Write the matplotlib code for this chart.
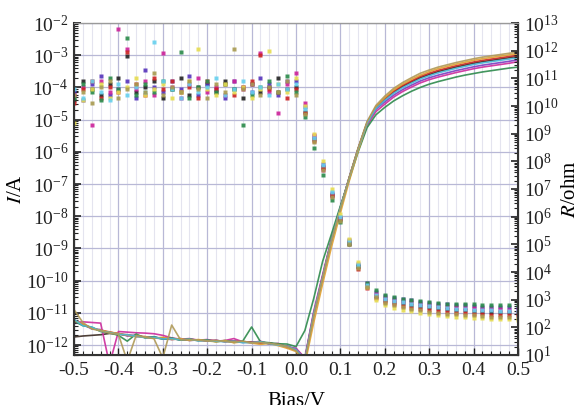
import numpy as np
import matplotlib
matplotlib.use('Agg')
import matplotlib.pyplot as plt
from matplotlib.ticker import MultipleLocator, LogLocator, NullFormatter

plt.rcParams['font.family'] = 'serif'
plt.rcParams['font.serif'] = ['Liberation Serif', 'DejaVu Serif']
plt.rcParams['mathtext.fontset'] = 'stix'
plt.rcParams['axes.unicode_minus'] = False

# bias sweep, V (step 0.02)
bias = np.round(np.arange(-0.5, 0.501, 0.02), 2)

# lg(I/A)
i_black = [-11.75, -11.72, -11.70, -11.68, -11.64, -11.66, -11.70, -11.71, -11.76, -11.78,
           -11.80, -11.80, -11.84, -11.83, -11.86, -11.85, -11.88, -11.87, -11.90, -11.89,
           -11.92, -11.92, -11.96, -11.97, -12.06,
           -12.15, -12.45, -11.05, -9.90, -8.75, -7.75, -6.80, -5.90, -5.10, -4.63,
           -4.37, -4.15, -3.97, -3.83, -3.70, -3.60, -3.51, -3.44, -3.37, -3.31,
           -3.25, -3.20, -3.16, -3.12, -3.08, -3.04]
i_purple = [-11.28, -11.36, -11.50, -11.52, -11.62, -11.63, -11.72, -11.70, -11.76, -11.75,
            -11.80, -11.83, -11.80, -11.86, -11.84, -11.88, -11.85, -11.90, -11.87, -11.92,
            -11.90, -11.95, -11.93, -12.00, -12.03,
            -12.12, -12.42, -11.00, -9.85, -8.72, -7.73, -6.80, -5.92, -5.14, -4.68,
            -4.45, -4.24, -4.07, -3.93, -3.80, -3.70, -3.62, -3.55, -3.48, -3.42,
            -3.36, -3.31, -3.27, -3.23, -3.19, -3.14]
i_magenta = [-11.30, -11.28, -11.30, -11.32, -12.60, -11.58, -11.60, -11.62, -11.63, -11.65,
             -11.70, -11.78, -11.82, -11.80, -11.85, -11.83, -11.88, -11.86, -11.80, -11.90,
             -11.93, -11.88, -11.97, -11.95, -12.08,
             -12.10, -12.40, -10.95, -9.82, -8.70, -7.72, -6.82, -5.95, -5.18, -4.75,
             -4.52, -4.30, -4.13, -3.99, -3.86, -3.76, -3.68, -3.61, -3.54, -3.48,
             -3.42, -3.37, -3.33, -3.29, -3.25, -3.20]
i_red = [-11.22, -11.36, -11.46, -11.56, -11.59, -11.66, -11.68, -11.74, -11.74, -11.78,
         -11.78, -11.82, -11.82, -11.85, -11.84, -11.87, -11.86, -11.89, -11.88, -11.91,
         -11.90, -11.94, -11.94, -11.99, -12.04,
         -12.16, -12.46, -11.06, -9.90, -8.76, -7.76, -6.80, -5.90, -5.10, -4.62,
         -4.35, -4.12, -3.94, -3.80, -3.66, -3.56, -3.47, -3.40, -3.33, -3.27,
         -3.21, -3.16, -3.12, -3.08, -3.04, -3.00]
i_green = [-11.26, -11.40, -11.45, -11.58, -11.62, -11.70, -11.88, -11.66, -11.78, -11.74,
           -11.82, -11.78, -11.85, -11.81, -11.86, -11.84, -11.90, -11.86, -11.92, -11.88,
           -11.44, -11.90, -11.93, -11.96, -11.97,
           -12.05, -11.55, -10.55, -9.40, -8.55, -7.68, -6.85, -6.00, -5.25, -4.85,
           -4.62, -4.42, -4.26, -4.12, -4.00, -3.90, -3.82, -3.75, -3.68, -3.62,
           -3.57, -3.52, -3.48, -3.44, -3.40, -3.37]
i_yellow = [-11.24, -11.35, -11.48, -11.54, -11.60, -11.64, -11.70, -11.73, -11.74, -11.79,
            -11.76, -11.83, -11.80, -11.86, -11.83, -11.87, -11.90, -11.86, -11.93, -11.90,
            -11.94, -11.98, -11.95, -12.02, -12.10,
            -12.20, -12.60, -11.30, -10.10, -8.95, -7.90, -6.90, -5.98, -5.12, -4.60,
            -4.32, -4.08, -3.90, -3.75, -3.62, -3.51, -3.42, -3.35, -3.28, -3.22,
            -3.16, -3.11, -3.07, -3.03, -2.99, -2.95]
i_cyan = [-11.20, -11.40, -11.44, -11.57, -11.61, -11.67, -11.68, -11.73, -11.77, -11.76,
          -11.81, -11.80, -11.84, -11.82, -11.87, -11.86, -11.88, -11.90, -11.88, -11.93,
          -11.92, -11.90, -11.96, -12.00, -12.04,
          -12.14, -12.44, -11.02, -9.88, -8.74, -7.74, -6.80, -5.91, -5.12, -4.66,
          -4.40, -4.18, -4.01, -3.87, -3.74, -3.64, -3.55, -3.48, -3.41, -3.35,
          -3.29, -3.24, -3.20, -3.16, -3.12, -3.08]
i_olive = [-10.90, -11.30, -11.50, -11.56, -11.63, -11.67, -12.50, -11.70, -11.76, -11.80,
           -12.40, -11.38, -11.84, -11.83, -11.85, -11.87, -11.86, -11.89, -11.90, -11.88,
           -11.93, -11.92, -11.95, -11.98, -12.05,
           -12.18, -12.50, -11.10, -9.92, -8.77, -7.76, -6.79, -5.88, -5.06, -4.56,
           -4.27, -4.03, -3.85, -3.70, -3.56, -3.46, -3.37, -3.30, -3.23, -3.17,
           -3.11, -3.06, -3.02, -2.98, -2.94, -2.90]

# lg(R/ohm)
r_black = [10.2, 10.9, 10.6, 10.4, 10.8, 11.0, 11.8, 10.5, 10.7, 10.9,
           10.3, 10.6, 11.0, 10.4, 10.7, 10.8, 10.5, 10.9, 10.6, 10.3,
           10.8, 10.5, 10.7, 11.0, 10.6,
           10.7, 9.8, 8.8, 7.8, 6.8, 5.95, 5.1, 4.2, 3.5, 3.15,
           3.0, 2.93, 2.87, 2.81, 2.76, 2.72, 2.69, 2.66, 2.63, 2.61,
           2.59, 2.57, 2.56, 2.55, 2.54, 2.53]
r_purple = [10.5, 10.2, 10.8, 11.1, 10.4, 10.6, 10.9, 10.3, 11.3, 10.7,
            10.5, 10.9, 10.6, 11.1, 10.4, 10.8, 10.6, 10.3, 10.9, 10.7,
            10.5, 11.0, 10.8, 10.4, 10.9,
            10.9, 9.95, 8.9, 7.9, 6.85, 6.0, 5.15, 4.3, 3.6, 3.28,
            3.13, 3.07, 3.02, 2.97, 2.92, 2.89, 2.86, 2.83, 2.81, 2.79,
            2.77, 2.75, 2.74, 2.73, 2.72, 2.71]
r_magenta = [10.4, 10.7, 9.3, 10.9, 10.5, 12.8, 12.05, 10.6, 10.9, 10.4,
             11.9, 10.7, 10.3, 10.8, 11.0, 10.5, 10.7, 10.4, 10.9, 10.6,
             10.8, 11.9, 10.5, 9.75, 10.8,
             11.2, 10.1, 8.95, 7.7, 6.75, 5.9, 5.05, 4.2, 3.55, 3.22,
             3.07, 3.0, 2.95, 2.9, 2.85, 2.81, 2.78, 2.75, 2.73, 2.71,
             2.69, 2.67, 2.66, 2.65, 2.64, 2.63]
r_red = [10.1, 10.6, 10.9, 10.3, 10.7, 10.5, 11.95, 10.8, 10.4, 11.0,
         10.6, 10.9, 10.5, 10.7, 10.3, 10.9, 10.6, 10.8, 10.4, 10.7,
         10.9, 11.85, 10.6, 10.5, 10.3,
         10.6, 9.75, 8.75, 7.75, 6.8, 5.9, 5.0, 4.1, 3.42, 3.05,
         2.9, 2.83, 2.77, 2.71, 2.66, 2.62, 2.59, 2.56, 2.53, 2.51,
         2.49, 2.47, 2.46, 2.45, 2.44, 2.43]
r_green = [10.3, 10.8, 10.5, 10.2, 11.0, 10.6, 12.45, 10.4, 10.8, 10.5,
           10.9, 10.6, 11.95, 10.3, 10.7, 10.9, 10.5, 10.8, 10.6, 9.3,
           10.4, 10.7, 10.9, 10.5, 11.1,
           10.5, 9.6, 8.5, 7.5, 6.6, 5.8, 5.0, 4.2, 3.62, 3.35,
           3.17, 3.1, 3.04, 2.99, 2.94, 2.9, 2.88, 2.86, 2.85, 2.84,
           2.83, 2.82, 2.82, 2.81, 2.81, 2.8]
r_yellow = [9.4, 10.2, 10.6, 10.8, 10.3, 10.5, 10.7, 11.0, 10.4, 10.6,
            10.8, 10.3, 10.5, 10.9, 12.05, 10.6, 10.4, 10.8, 10.5, 10.7,
            10.3, 10.6, 12.0, 10.8, 10.5,
            11.0, 10.0, 9.0, 8.0, 7.0, 6.1, 5.2, 4.35, 3.45, 3.0,
            2.8, 2.71, 2.64, 2.58, 2.53, 2.48, 2.45, 2.42, 2.39, 2.37,
            2.35, 2.33, 2.31, 2.3, 2.29, 2.28]
r_cyan = [10.6, 10.3, 10.9, 10.5, 10.2, 10.8, 10.4, 10.7, 10.5, 12.3,
          10.9, 10.6, 10.3, 10.8, 10.5, 10.7, 11.0, 10.4, 10.6, 10.9,
          10.5, 10.7, 10.4, 10.8, 10.6,
          10.8, 9.9, 8.85, 7.85, 6.9, 6.0, 5.1, 4.25, 3.52, 3.18,
          3.03, 2.96, 2.9, 2.85, 2.8, 2.76, 2.73, 2.7, 2.68, 2.66,
          2.64, 2.62, 2.61, 2.6, 2.59, 2.58]
r_olive = [10.4, 10.5, 10.1, 10.7, 10.9, 10.3, 10.6, 10.8, 10.5, 11.2,
           10.4, 10.7, 10.5, 10.9, 10.6, 10.3, 10.8, 10.5, 12.06, 10.6,
           10.8, 10.4, 10.7, 10.5, 10.9,
           10.4, 9.7, 8.7, 7.7, 6.7, 5.85, 5.0, 4.15, 3.45, 3.08,
           2.88, 2.8, 2.73, 2.67, 2.62, 2.57, 2.53, 2.5, 2.47, 2.45,
           2.43, 2.41, 2.39, 2.38, 2.36, 2.35]

curves_i = [i_black, i_purple, i_magenta, i_red, i_green, i_yellow, i_cyan, i_olive]
curves_r = [r_black, r_purple, r_magenta, r_red, r_green, r_yellow, r_cyan, r_olive]
line_colors = ['#3a2a22', '#7a3cc0', '#cc2a9c', '#cc2626', '#2e8a4c', '#e0a030', '#4ab8d8', '#b09a58']
dot_colors = ['#222222', '#5533bb', '#cc2299', '#cc2222', '#2a8a4a', '#e6dc50', '#66d0ee', '#a89a50']

fig = plt.figure(figsize=(5.77, 4.05), dpi=100)
ax = fig.add_axes([74 / 577, 50 / 405, 444 / 577, 332 / 405])
ax2 = ax.twinx()

for lg, col in zip(curves_i, line_colors):
    ax.plot(bias, 10.0 ** np.array(lg), color=col, lw=1.2, alpha=0.9)

for lg, col in zip(curves_r, dot_colors):
    ax2.plot(bias, 10.0 ** np.array(lg), 's', ms=2.3, color=col, mec='none', alpha=0.9)

ax.set_xlim(-0.5, 0.5)
ax.set_yscale('log')
ax.set_ylim(10 ** -12.31, 1e-2)
ax2.set_yscale('log')
ax2.set_ylim(1e1, 1e13)

ax.xaxis.set_major_locator(MultipleLocator(0.1))
ax.xaxis.set_minor_locator(MultipleLocator(0.02))
for a in (ax, ax2):
    a.yaxis.set_major_locator(LogLocator(base=10, numticks=30))
    a.yaxis.set_minor_locator(LogLocator(base=10, subs=np.arange(2, 10), numticks=30))
    a.yaxis.set_minor_formatter(NullFormatter())

ax.grid(True, which='major', axis='both', color='#b8b8d6', lw=0.9)
ax.grid(True, which='minor', axis='x', color='#e4e4ef', lw=0.8)
ax.set_axisbelow(True)

ax.tick_params(axis='both', which='both', direction='in', labelsize=14, colors='#222222')
ax.tick_params(axis='x', which='major', length=5, width=1, pad=5, top=False)
ax.tick_params(axis='x', which='minor', length=3, width=0.8, top=False)
ax.tick_params(axis='y', which='major', length=5, width=1.2, pad=4)
ax.tick_params(axis='y', which='minor', length=3, width=0.8)
ax2.tick_params(axis='y', which='both', direction='in', labelsize=14, colors='#222222')
ax2.tick_params(axis='y', which='major', length=5, width=1.2, pad=4)
ax2.tick_params(axis='y', which='minor', length=3, width=0.8)

for sp in ('left', 'right', 'bottom'):
    ax2.spines[sp].set_color('#333333')
    ax2.spines[sp].set_linewidth(1.5)
ax2.spines['top'].set_color('#9a9a9a')

ax.set_ylabel('$I$/A', fontsize=15)
ax.yaxis.set_label_coords(-0.108, 0.5)
ax2.set_ylabel('$R$/ohm', fontsize=15, rotation=90)
ax2.yaxis.set_label_coords(1.096, 0.5)
ax.set_xlabel('Bias/V', fontsize=15)
ax.xaxis.set_label_coords(0.5, -0.112)

fig.savefig('out.png', dpi=100)
